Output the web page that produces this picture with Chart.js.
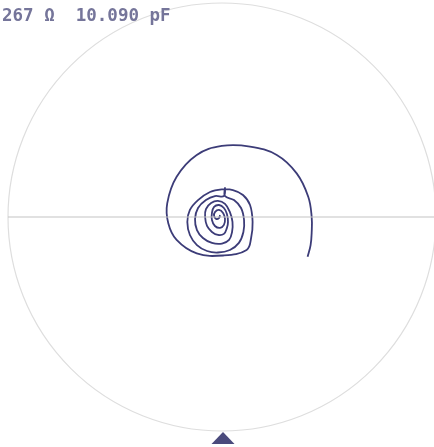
<!DOCTYPE html>
<html>
<head>
<meta charset="utf-8">
<script src="https://cdn.jsdelivr.net/npm/chart.js@4.4.1/dist/chart.umd.min.js"></script>
<style>
  html, body { margin: 0; padding: 0; background: #fff; overflow: hidden; width: 434px; height: 447px; }
  #wrap { position: relative; width: 434px; height: 447px; }
  canvas { position: absolute; left: 0; top: 0; }
  #readout {
    position: absolute; left: 2px; top: 7px;
    font: bold 17.5px 'DejaVu Sans Mono', monospace; line-height: 1;
    color: #75759a; white-space: pre;
  }
</style>
</head>
<body>
<div id="wrap">
  <canvas id="smith" width="460" height="447"></canvas>
  <div id="readout">267 Ω  10.090 pF</div>
</div>
<script>
const gammaRe = [
  0.400, 0.414, 0.419, 0.419, 0.403, 0.349, 0.256, 0.131, -0.001, -0.118, -0.212, -0.256, -0.251, -0.212, -0.118, 0.006, 0.115,
  0.136, 0.143, 0.131, 0.098, 0.051, 0.000, -0.056, -0.112, -0.150, -0.162, -0.150, -0.117, -0.070, -0.019, 0.037,
  0.079, 0.100, 0.103, 0.089, 0.056, 0.014, 0.014, 0.009, -0.033, -0.075, -0.112, -0.126, -0.117, -0.089, -0.047, 0.000,
  0.033, 0.047, 0.049, 0.037, 0.014, -0.019, -0.051, -0.075, -0.079, -0.070, -0.047, -0.019, 0.009, 0.023,
  0.028, 0.023, 0.009, -0.014, -0.037, -0.047, -0.047, -0.033, -0.009, 0.009, 0.014, 0.005, -0.014, -0.033, -0.037, -0.028, -0.014, -0.009
];
const gammaIm = [
  -0.186, -0.131, -0.075, 0.001, 0.095, 0.204, 0.290, 0.329, 0.332, 0.290, 0.188, 0.064, -0.029, -0.107, -0.170, -0.180, -0.154,
  -0.098, -0.023, 0.056, 0.103, 0.126, 0.129, 0.117, 0.079, 0.033, -0.023, -0.084, -0.131, -0.159, -0.166, -0.154,
  -0.121, -0.070, -0.014, 0.042, 0.079, 0.098, 0.136, 0.098, 0.098, 0.079, 0.042, -0.009, -0.061, -0.098, -0.121, -0.124,
  -0.107, -0.070, -0.023, 0.023, 0.061, 0.075, 0.065, 0.037, 0.000, -0.042, -0.070, -0.084, -0.079, -0.051,
  -0.023, 0.014, 0.042, 0.056, 0.047, 0.019, -0.014, -0.042, -0.051, -0.037, -0.009, 0.019, 0.033, 0.023, 0.005, -0.009, -0.005, 0.009
];
// real axis of the chart
const axisRe = [-1, 1];
const axisIm = [0, 0];
// marker below the chart edge
const markerRe = 0;
const markerIm = -1;

const trace = gammaRe.map((x, i) => ({ x: x, y: gammaIm[i] }));
const axis = axisRe.map((x, i) => ({ x: x, y: axisIm[i] }));

const smithFrame = {
  id: 'smithFrame',
  beforeDatasetsDraw(chart) {
    const { ctx, scales: { x, y } } = chart;
    const cx = x.getPixelForValue(0);
    const cy = y.getPixelForValue(0);
    const r = x.getPixelForValue(1) - cx;
    ctx.save();
    ctx.strokeStyle = '#dedede';
    ctx.lineWidth = 1.2;
    ctx.beginPath();
    ctx.arc(cx, cy, r, 0, Math.PI * 2);
    ctx.stroke();
    ctx.restore();
  },
  afterDatasetsDraw(chart) {
    const { ctx, scales: { x, y } } = chart;
    const px = x.getPixelForValue(markerRe) + 1;
    const py = y.getPixelForValue(markerIm);
    ctx.save();
    ctx.fillStyle = '#4a4a7c';
    ctx.beginPath();
    ctx.moveTo(px, py + 1);
    ctx.lineTo(px + 11.5, py + 13);
    ctx.lineTo(px - 11.5, py + 13);
    ctx.closePath();
    ctx.fill();
    ctx.restore();
  }
};

new Chart(document.getElementById('smith'), {
  type: 'scatter',
  data: {
    datasets: [{
      data: axis,
      showLine: true,
      borderColor: '#c4c4c4',
      borderWidth: 1.2,
      pointRadius: 0
    }, {
      data: trace,
      showLine: true,
      borderColor: '#3c3c78',
      borderWidth: 1.8,
      pointRadius: 0,
      tension: 0.4
    }]
  },
  options: {
    responsive: false,
    animation: false,
    layout: { padding: { left: 8, right: 24, top: 3, bottom: 16 } },
    plugins: { legend: { display: false }, tooltip: { enabled: false } },
    scales: {
      x: { display: false, min: -1, max: 1 },
      y: { display: false, min: -1, max: 1 }
    }
  },
  plugins: [smithFrame]
});
</script>
</body>
</html>
